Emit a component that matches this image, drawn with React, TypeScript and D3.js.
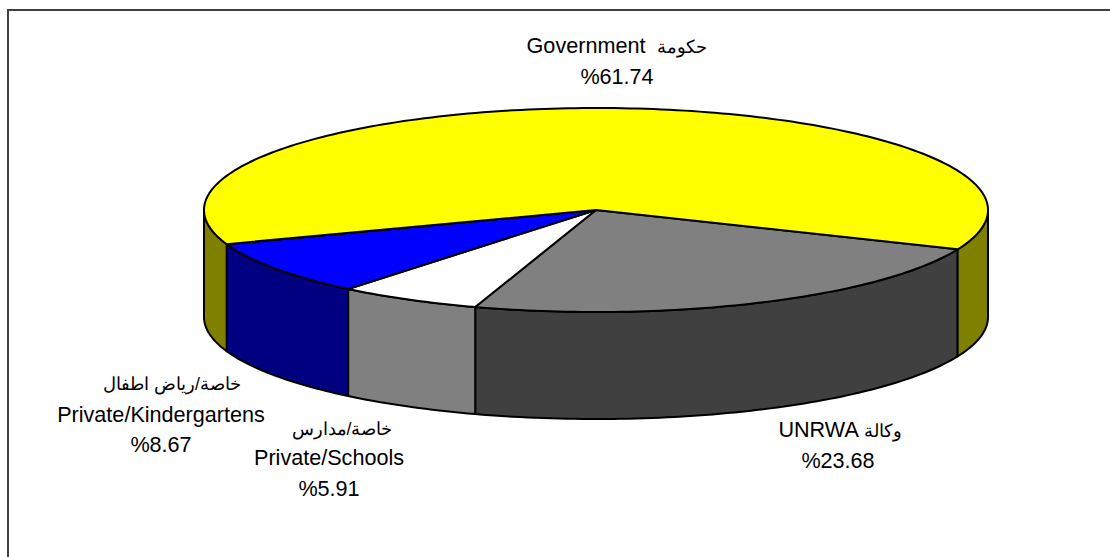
import * as d3 from "d3";

const categories = ["UNRWA", "Private/Schools", "Private/Kindergartens", "Government"];
const values = [23.68, 5.91, 8.67, 61.74];
const topColors = ["#808080", "#ffffff", "#0000ff", "#ffff00"];
const sideColors = ["#404040", "#808080", "#000080", "#808000"];
// label lines per category, same order
const labelLines = [
  ["UNRWA وكالة", "%23.68"],
  ["خاصة/مدارس", "Private/Schools", "%5.91"],
  ["خاصة/رياض اطفال", "Private/Kindergartens", "%8.67"],
  ["Government  حكومة", "%61.74"],
];
const labelPos = [
  { x: [840, 838], y: [437, 468] },
  { x: [342, 329, 329], y: [435, 465, 496] },
  { x: [172, 161, 161], y: [390, 422, 452] },
  { x: [617, 617], y: [53, 84] },
];

const WIDTH = 1110;
const HEIGHT = 557;
const CX = 596;
const CY = 210;
const RX = 392;
const RY = 102;
const DEPTH = 107;
const START = (112.7 * Math.PI) / 180;
const FONT_SIZE = 21.6;
const ARABIC_SIZE = 17.6;

const px = (a: number) => CX + RX * Math.sin(a);
const py = (a: number) => CY - RY * Math.cos(a);

const slices = d3
  .pie<number>()
  .sort(null)
  .startAngle(START)
  .endAngle(START + 2 * Math.PI)(values);

const line = d3.line();

const arcAngles = (a0: number, a1: number) => {
  const n = Math.max(2, Math.ceil((a1 - a0) / 0.02));
  return d3.range(n + 1).map((i) => a0 + ((a1 - a0) * i) / n);
};

const topPath = (a0: number, a1: number) => {
  const pts: [number, number][] = arcAngles(a0, a1).map((a) => [px(a), py(a)]);
  return line([[CX, CY], ...pts]) + "Z";
};

const sidePath = (a0: number, a1: number) => {
  const top: [number, number][] = arcAngles(a0, a1).map((a) => [px(a), py(a)]);
  const bottom: [number, number][] = [...top].reverse().map(([x, y]) => [x, y + DEPTH]);
  return line([...top, ...bottom]) + "Z";
};

// parts of a slice that face the viewer (90deg..270deg, also after wrap)
const frontParts = (a0: number, a1: number) => {
  const parts: [number, number][] = [];
  for (const k of [0, 2 * Math.PI]) {
    const s = Math.max(a0, Math.PI / 2 + k);
    const e = Math.min(a1, (3 * Math.PI) / 2 + k);
    if (e > s) parts.push([s, e]);
  }
  return parts;
};

// arabic runs are set smaller than the latin ones
const ARABIC_RUN = /([\u0600-\u06FF][\u0600-\u06FF/ ]*)/;
const runs = (t: string) => t.split(ARABIC_RUN).filter((r) => r.length > 0);

export default function App() {
  return (
    <svg
      width={WIDTH}
      height={HEIGHT}
      style={{ position: "absolute", left: 0, top: 0, display: "block", background: "#fff" }}
      fontFamily="'Liberation Sans', Arial, sans-serif"
    >
      <path d={`M8,${HEIGHT}V10H${WIDTH}`} fill="none" stroke="#404040" strokeWidth={2} />

      {slices.map((s, i) =>
        frontParts(s.startAngle, s.endAngle).map(([a0, a1], j) => (
          <path
            key={`${categories[i]}-side-${j}`}
            d={sidePath(a0, a1)}
            fill={sideColors[i]}
            stroke="#000"
            strokeWidth={2}
            strokeLinejoin="round"
          />
        ))
      )}
      {slices.map((s, i) => (
        <path
          key={`${categories[i]}-top`}
          d={topPath(s.startAngle, s.endAngle)}
          fill={topColors[i]}
          stroke="#000"
          strokeWidth={2}
          strokeLinejoin="round"
        />
      ))}

      {labelLines.map((lines, i) => (
        <text key={categories[i]} textAnchor="middle" fill="#000" fontSize={FONT_SIZE} style={{ whiteSpace: "pre" }}>
          {lines.map((t, j) => (
            <tspan key={j} x={labelPos[i].x[j]} y={labelPos[i].y[j]}>
              {runs(t).map((r, k) =>
                ARABIC_RUN.test(r) ? (
                  <tspan key={k} fontSize={ARABIC_SIZE}>
                    {r}
                  </tspan>
                ) : (
                  <tspan key={k}>{r}</tspan>
                )
              )}
            </tspan>
          ))}
        </text>
      ))}
    </svg>
  );
}
